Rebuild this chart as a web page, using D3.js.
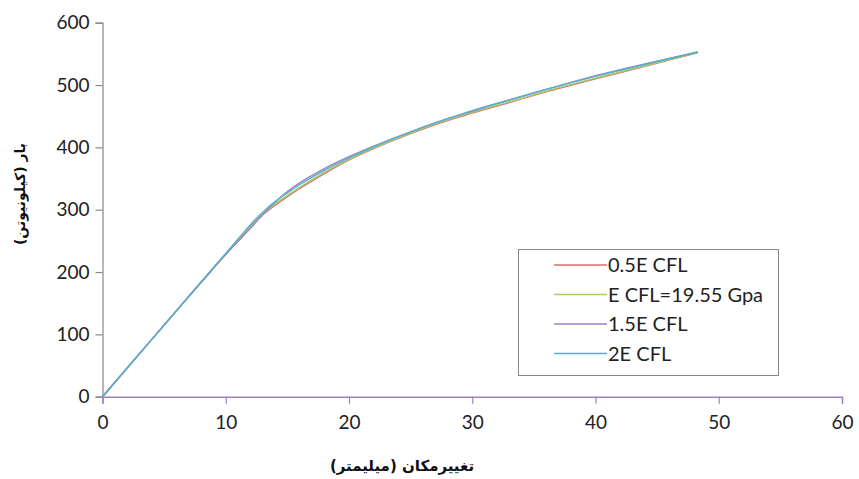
<!DOCTYPE html>
<html><head><meta charset="utf-8">
<script src="https://cdn.jsdelivr.net/npm/d3@7"></script>
<style>body{margin:0;background:#fff}svg{display:block}</style>
</head><body>
<svg id="c" width="859" height="479"></svg>
<script>
const xTicks = [0,10,20,30,40,50,60];
const yTicks = [0,100,200,300,400,500,600];
const seriesNames = ["0.5E CFL","E CFL=19.55 Gpa","1.5E CFL","2E CFL"];
const seriesColors = ["#d8706c","#a8cb6a","#9a82c2","#52b2cc"];
const disp = [0,2,4,6,8,10,11,12,13,14,15,16,18,20,22,25,28,30,33,36,40,44,48.3];
const s05 = [0,46,92,138,184,229,251,273,292,307,321,334,358,380,398,422,443,455,472,489,510,530,552];
const s10 = [0,46,92,138,184,229,252,274,293,309,323,336,360,381,399,423,444,456,473,490,511,531,552];
const s15 = [0,46,92,138,183,228,249,270,292,312,329,343,366,385,402,425,446,458,476,493,515,534,553];
const s20 = [0,46,92,138,184,230,253,276,296,313,327,340,363,383,401,425,446,459,476,493,514,533,553];
const seriesValues = [s05,s10,s15,s20];

const svg = d3.select("#c");
const x = d3.scaleLinear().domain([0,60]).range([102.5,842]);
const y = d3.scaleLinear().domain([0,600]).range([396.7,22.7]);

// y axis
const ya = svg.append("g").attr("transform","translate(102.5,0)")
  .call(d3.axisLeft(y).tickValues(yTicks).tickSize(7).tickPadding(6));
ya.select(".domain").attr("stroke","#888").attr("stroke-width",1.2);
ya.selectAll(".tick line").attr("stroke","#888").attr("stroke-width",1.2);
ya.selectAll(".tick text").attr("font-family","Lato, 'Open Sans', sans-serif").attr("font-size",19).attr("fill","#222");

// x axis
const xa = svg.append("g").attr("transform","translate(0,396.7)")
  .call(d3.axisBottom(x).tickValues(xTicks).tickSize(7).tickPadding(12));
xa.select(".domain").attr("stroke","#9a82c2").attr("stroke-width",1.5);
xa.selectAll(".tick line").attr("stroke","#9a82c2").attr("stroke-width",1.2);
xa.selectAll(".tick text").attr("font-family","Lato, 'Open Sans', sans-serif").attr("font-size",19).attr("fill","#222");

// lines
const line = d3.line().x(d=>x(d[0])).y(d=>y(d[1])).curve(d3.curveMonotoneX);
seriesValues.forEach((vals,i)=>{
  svg.append("path").datum(disp.map((d,j)=>[d,vals[j]]))
    .attr("d",line).attr("fill","none").attr("stroke",seriesColors[i]).attr("stroke-width",1.4);
});

// titles
svg.append("text").attr("x",402).attr("y",471).attr("text-anchor","middle")
  .attr("font-family","'DejaVu Sans', sans-serif").attr("font-weight","bold").attr("font-size",15).attr("fill","#111")
  .text("تغییرمکان (میلیمتر)");
svg.append("text").attr("transform","translate(25,194) rotate(-90)").attr("text-anchor","middle")
  .attr("font-family","'DejaVu Sans', sans-serif").attr("font-weight","bold").attr("font-size",14).attr("fill","#111")
  .text("بار (کیلونیوتن)");

// legend
const lg = svg.append("g");
lg.append("rect").attr("x",518.5).attr("y",249.5).attr("width",260).attr("height",126)
  .attr("fill","#fff").attr("stroke","#888").attr("stroke-width",1);
seriesNames.forEach((n,i)=>{
  const yy = 265 + i*29.5;
  lg.append("line").attr("x1",554).attr("x2",607).attr("y1",yy).attr("y2",yy)
    .attr("stroke",seriesColors[i]).attr("stroke-width",1.4);
  lg.append("text").attr("x",608).attr("y",yy+7).attr("font-family","Lato, 'Open Sans', sans-serif")
    .attr("font-size",20).attr("fill","#222").text(n);
});
</script>
</body></html>
